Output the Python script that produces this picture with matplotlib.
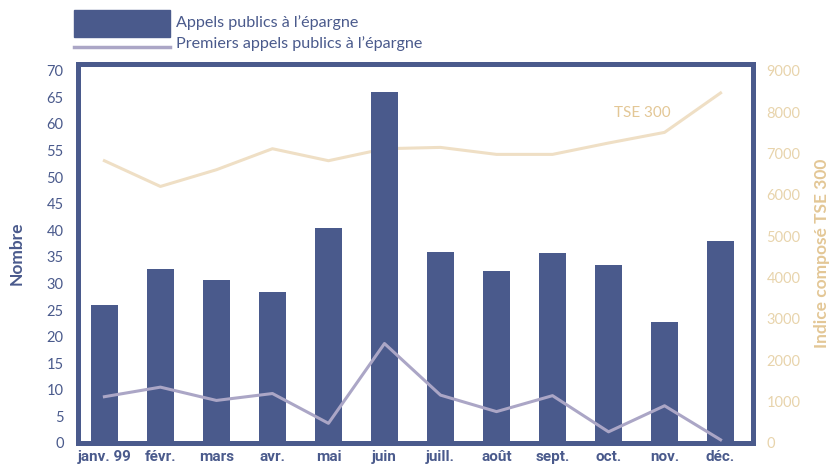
import matplotlib
matplotlib.use("Agg")
import matplotlib.pyplot as plt
from matplotlib.patches import Rectangle
from matplotlib.lines import Line2D
import numpy as np

months = ["janv. 99", "févr.", "mars", "avr.", "mai", "juin", "juill.", "août",
          "sept.", "oct.", "nov.", "déc."]
appels = [26, 32.7, 30.6, 28.4, 40.4, 66, 35.9, 32.3, 35.7, 33.5, 22.7, 38]
premiers = [8.7, 10.5, 8.0, 9.3, 3.7, 18.7, 9.0, 5.9, 8.9, 2.1, 7.0, 0.6]
tse = [6823, 6201, 6605, 7113, 6823, 7113, 7145, 6976, 6976, 7251, 7508, 8461]
left_ticks = list(range(0, 71, 5))
right_ticks = list(range(0, 9001, 1000))

navy = "#4A5A8C"
purple = "#ABA6C6"
tan_line = "#EFDFC5"
tan_text = "#E3C796"
tan_tick = "#E8D4AC"

fig = plt.figure(figsize=(8.30, 4.68), dpi=100)
ax = fig.add_axes([77.5/830, 1-443/468, (752.5-77.5)/830, (443-64)/468])
x = np.arange(len(months))

ymax = 71.25
ax.bar(x, appels, width=0.48, color=navy, zorder=3)
ax.plot(x, premiers, color=purple, lw=2.2, zorder=4)
ax.set_xlim(-0.48, 11.57)
ax.set_ylim(0, ymax)
ax.set_yticks(left_ticks)
ax.set_yticklabels([str(v) for v in left_ticks], family=["Lato", "DejaVu Sans"],
                   fontsize=10.5, color=navy)
ax.set_xticks(x)
ax.set_xticklabels(months, family=["Roboto", "DejaVu Sans"], fontweight="bold",
                   fontsize=11, color=navy)
ax.tick_params(axis="y", length=0, pad=10)
ax.tick_params(axis="x", length=0, pad=5)
for s in ax.spines.values():
    s.set_color(navy)
    s.set_linewidth(3.6)
ax.set_ylabel("Nombre", family=["Lato", "DejaVu Sans"], fontweight="bold",
              fontsize=12.5, color=navy, labelpad=16)

ax2 = ax.twinx()
ax2.plot(x, tse, color=tan_line, lw=2.2, zorder=2)
ax2.set_ylim(0, ymax * 9000 / 70)
ax2.set_yticks(right_ticks)
ax2.set_yticklabels([str(v) for v in right_ticks], family=["Lato", "DejaVu Sans"],
                    fontsize=10.5, color=tan_tick)
ax2.tick_params(axis="y", length=0, pad=10)
for s in ax2.spines.values():
    s.set_visible(False)
ax2.set_ylabel("Indice composé TSE 300", family=["Lato", "DejaVu Sans"],
               fontweight="bold", fontsize=12.5, color=tan_text, labelpad=10)
ax2.text(9.6, 7985, "TSE 300", family=["Lato", "DejaVu Sans"], fontsize=11,
         color=tan_text, ha="center", va="center")
ax.set_zorder(ax2.get_zorder() + 1)
ax.patch.set_visible(False)

# legend
W, H = 830, 468
fig.patches.append(Rectangle((74/W, 1-37/H), 96/W, 27/H, transform=fig.transFigure,
                             color=navy))
fig.lines.append(Line2D([74/W, 170/W], [1-46.5/H, 1-46.5/H], transform=fig.transFigure,
                        color=purple, lw=2.5))
fig.text(176/W, 1-23/H, "Appels publics à l’épargne", family=["Lato", "DejaVu Sans"],
         fontsize=11.6, color=navy, va="center", ha="left")
fig.text(176/W, 1-44/H, "Premiers appels publics à l’épargne", family=["Lato", "DejaVu Sans"],
         fontsize=11.6, color=navy, va="center", ha="left")

fig.savefig("out.png", dpi=100)
